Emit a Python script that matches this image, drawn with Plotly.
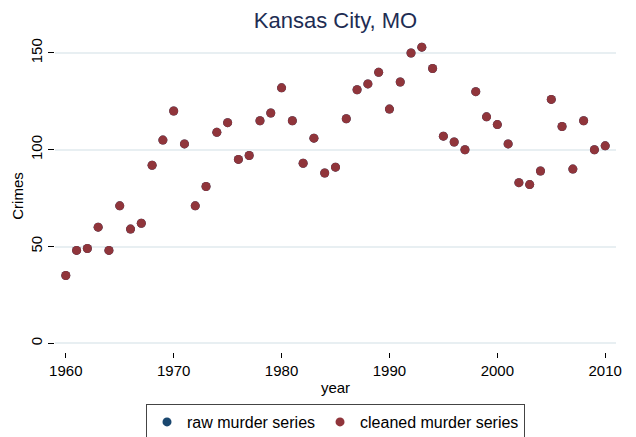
import plotly.graph_objects as go

years = list(range(1960, 2011))
raw_murders = [35, 48, 49, 60, 48, 71, 59, 62, 92, 105,
               120, 103, 71, 81, 109, 114, 95, 97, 115, 119,
               132, 115, 93, 106, 88, 91, 116, 131, 134, 140,
               121, 135, 150, 153, 142, 107, 104, 100, 130, 117,
               113, 103, 83, 82, 89, 126, 112, 90, 115, 100,
               102]
cleaned_murders = list(raw_murders)

x_ticks = [1960, 1970, 1980, 1990, 2000, 2010]
y_ticks = [0, 50, 100, 150]

FONT = "Liberation Sans, Arial, Helvetica, sans-serif"

# The page body has an 8px margin, so the figure is sized/offset to compensate.
W, H = 628, 429

fig = go.Figure()
fig.add_trace(go.Scatter(x=years, y=raw_murders, mode="markers",
                         name="raw murder series",
                         marker=dict(color="#1a476f", size=9, line=dict(width=0))))
fig.add_trace(go.Scatter(x=years, y=cleaned_murders, mode="markers",
                         name="cleaned murder series",
                         marker=dict(color="#90353b", size=9, line=dict(width=0))))

fig.update_layout(
    width=W, height=H,
    margin=dict(l=47, r=20, t=32, b=85),
    paper_bgcolor="white", plot_bgcolor="white",
    font=dict(family=FONT, size=15, color="black"),
    title=dict(text="Kansas City, MO", x=327.5 / W, xref="container", xanchor="center",
               y=1 - 12.3 / H, yref="container", yanchor="middle",
               font=dict(size=22, color="#1e2d53", family=FONT)),
    showlegend=True,
    legend=dict(orientation="h", x=327.5 / W, xref="container", xanchor="center",
                y=1 - 396 / H, yref="container", yanchor="top",
                bordercolor="#444444", borderwidth=1, bgcolor="white",
                font=dict(size=16), itemwidth=30),
    xaxis=dict(range=[1959, 2011], tickvals=x_ticks, ticks="outside", ticklen=5,
               tickcolor="black", showgrid=False, zeroline=False, showline=False,
               automargin=False,
               title=dict(text="year", standoff=4, font=dict(size=15))),
    yaxis=dict(range=[-4.5, 156.7], tickvals=y_ticks, ticks="outside", ticklen=6,
               tickcolor="black", tickangle=-90, showgrid=True, gridcolor="#e8eff2",
               gridwidth=1.5, zeroline=False, showline=False, automargin=False,
               title=dict(text="Crimes", standoff=0, font=dict(size=15))),
)

fig.write_html("out.html")
